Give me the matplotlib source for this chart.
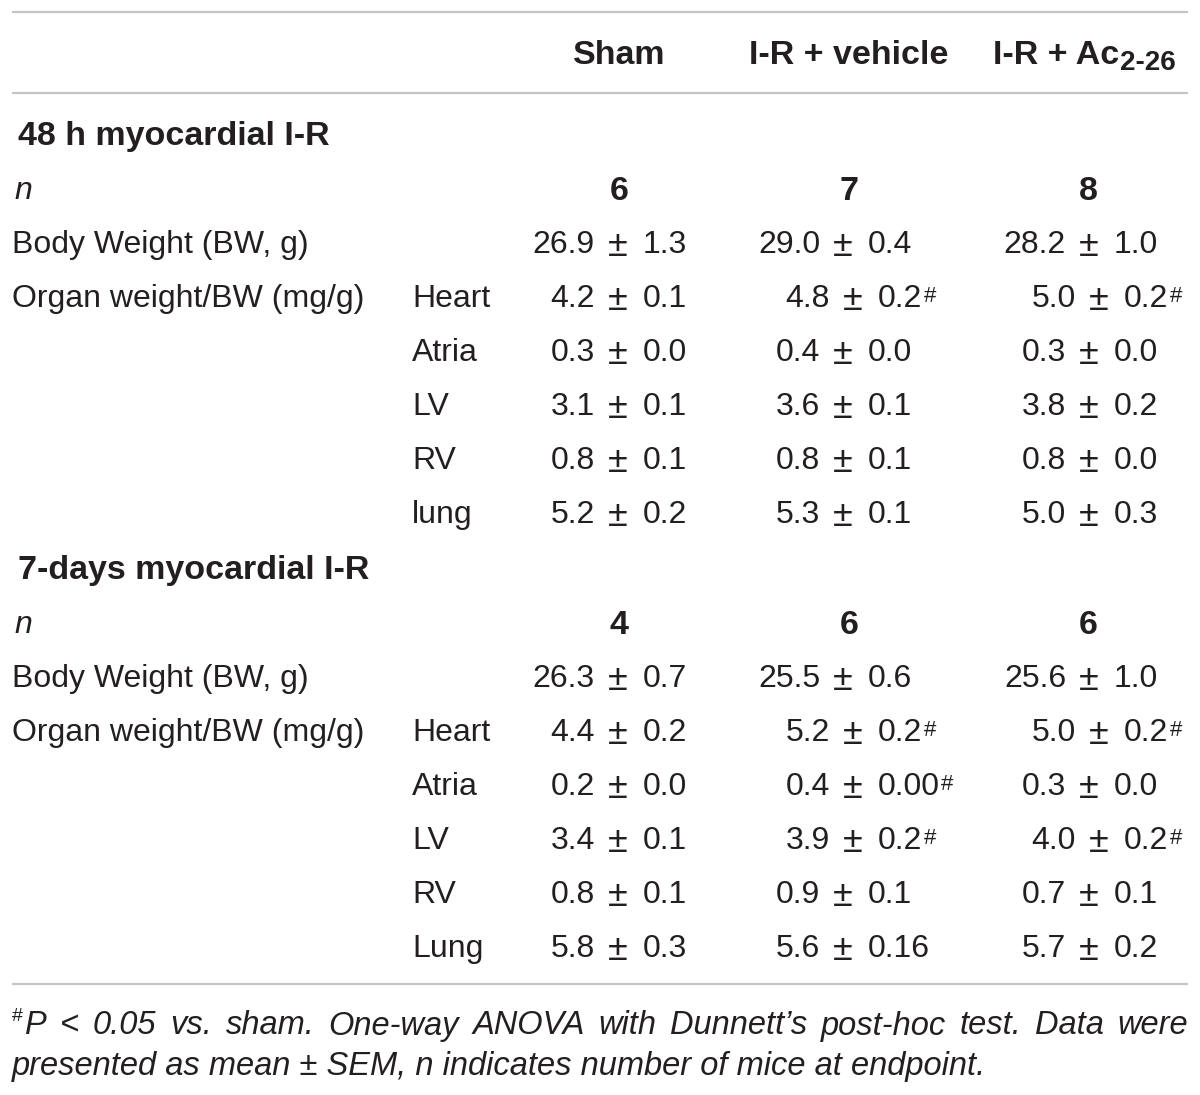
import matplotlib.pyplot as plt

# table content
groups = ["Sham", "I-R + vehicle", "I-R + Ac"]
group_sub = "2-26"
sections = ["48 h myocardial I-R", "7-days myocardial I-R"]
row_labels = ["Body Weight (BW, g)", "Organ weight/BW (mg/g)"]
organs_48h = ["Heart", "Atria", "LV", "RV", "lung"]
organs_7d = ["Heart", "Atria", "LV", "RV", "Lung"]

n_48h = [6, 7, 8]
n_7d = [4, 6, 6]

# BW, Heart, Atria, LV, RV, lung  (# = P < 0.05 vs sham)
sham_48h = ["26.9 ± 1.3", "4.2 ± 0.1", "0.3 ± 0.0", "3.1 ± 0.1", "0.8 ± 0.1", "5.2 ± 0.2"]
veh_48h = ["29.0 ± 0.4", "4.8 ± 0.2#", "0.4 ± 0.0", "3.6 ± 0.1", "0.8 ± 0.1", "5.3 ± 0.1"]
ac_48h = ["28.2 ± 1.0", "5.0 ± 0.2#", "0.3 ± 0.0", "3.8 ± 0.2", "0.8 ± 0.0", "5.0 ± 0.3"]

sham_7d = ["26.3 ± 0.7", "4.4 ± 0.2", "0.2 ± 0.0", "3.4 ± 0.1", "0.8 ± 0.1", "5.8 ± 0.3"]
veh_7d = ["25.5 ± 0.6", "5.2 ± 0.2#", "0.4 ± 0.00#", "3.9 ± 0.2#", "0.9 ± 0.1", "5.6 ± 0.16"]
ac_7d = ["25.6 ± 1.0", "5.0 ± 0.2#", "0.3 ± 0.0", "4.0 ± 0.2#", "0.7 ± 0.1", "5.7 ± 0.2"]

foot1 = "P < 0.05 vs. sham. One-way ANOVA with Dunnett\u2019s post-hoc test. Data were"
foot2 = "presented as mean ± SEM, n indicates number of mice at endpoint."

FONT = "Liberation Sans"
INK = "#231f20"
RULE = "#c4c4c4"
FS = 23
FSB = 24.5
DY = 3

fig = plt.figure(figsize=(12, 10.95), dpi=100)
ax = fig.add_axes([0, 0, 1, 1])
ax.set_xlim(0, 1200)
ax.set_ylim(1095, 0)
ax.axis("off")
renderer = fig.canvas.get_renderer()


def txt(x, y, s, **kw):
    opts = dict(fontfamily=FONT, fontsize=FS, color=INK, va="center", ha="left")
    opts.update(kw)
    if opts["va"] == "center":
        y = y + DY
    return ax.text(x, y, s, **opts)


def extent(t):
    bb = t.get_window_extent(renderer)
    inv = ax.transData.inverted()
    x0, ybot = inv.transform((bb.x0, bb.y0))
    x1, ytop = inv.transform((bb.x1, bb.y1))
    return x0, x1, ytop, ybot


def cell(xc, y, s):
    sig = s.endswith("#")
    s = s.rstrip("#")
    left, right = s.split(" ± ")
    if sig:
        xc += 10
    txt(xc - 23, y, left, ha="right")
    txt(xc, y + 1, "±", ha="center", fontsize=26)
    t = txt(xc + 25, y, right, ha="left")
    if sig:
        _, x1, ytop, _ = extent(t)
        txt(x1 + 1, ytop + 2, "#", fontsize=16, va="top")


# rules
for yy in [12, 93, 984]:
    ax.plot([12, 1188], [yy, yy], color=RULE, lw=1.6, solid_capstyle="butt")

# header
col_head = [619, 849, 1088]
pm_x = [618, 843, 1089]
txt(col_head[0], 52, groups[0], ha="center", fontweight="bold", fontsize=FSB)
txt(col_head[1], 52, groups[1], ha="center", fontweight="bold", fontsize=FSB)
h = txt(993, 52, groups[2], fontweight="bold", fontsize=FSB)
_, x1, _, _ = extent(h)
txt(x1 + 1, 60, group_sub, fontsize=20, fontweight="bold")

# body
blocks = [
    (sections[0], n_48h, organs_48h, [sham_48h, veh_48h, ac_48h], 133),
    (sections[1], n_7d, organs_7d, [sham_7d, veh_7d, ac_7d], 567),
]
step = 54
for title, ns, organs, cols, y0 in blocks:
    txt(18, y0, title, fontweight="bold", fontsize=FSB)
    yn = y0 + 55
    txt(14, yn, "n", fontstyle="italic")
    for j in range(3):
        txt(col_head[j], yn, str(ns[j]), ha="center", fontweight="bold", fontsize=FSB)
    ybw = yn + step
    txt(12, ybw, row_labels[0])
    for j in range(3):
        cell(pm_x[j], ybw, cols[j][0])
    yo = ybw + step
    txt(12, yo, row_labels[1])
    for i, org in enumerate(organs):
        yy = yo + i * step
        txt(412, yy, org)
        for j in range(3):
            cell(pm_x[j], yy, cols[j][i + 1])

# footnote, first line justified to the rule width
FF = 23.5
txt(12, 1008, "#", fontsize=14, va="top")
words = foot1.split(" ")
x_start, x_end = 25, 1188
ws = []
for w in words:
    t = txt(0, 1023, w, fontstyle="italic", fontsize=FF)
    x0, x1, _, _ = extent(t)
    ws.append(x1 - x0)
    t.remove()
gap = (x_end - x_start - sum(ws)) / (len(words) - 1)
x = x_start
for w, wd in zip(words, ws):
    txt(x, 1023, w, fontstyle="italic", fontsize=FF)
    x += wd + gap
txt(12, 1063, foot2, fontstyle="italic", fontsize=FF)

fig.savefig("out.png", dpi=100, facecolor="white")
